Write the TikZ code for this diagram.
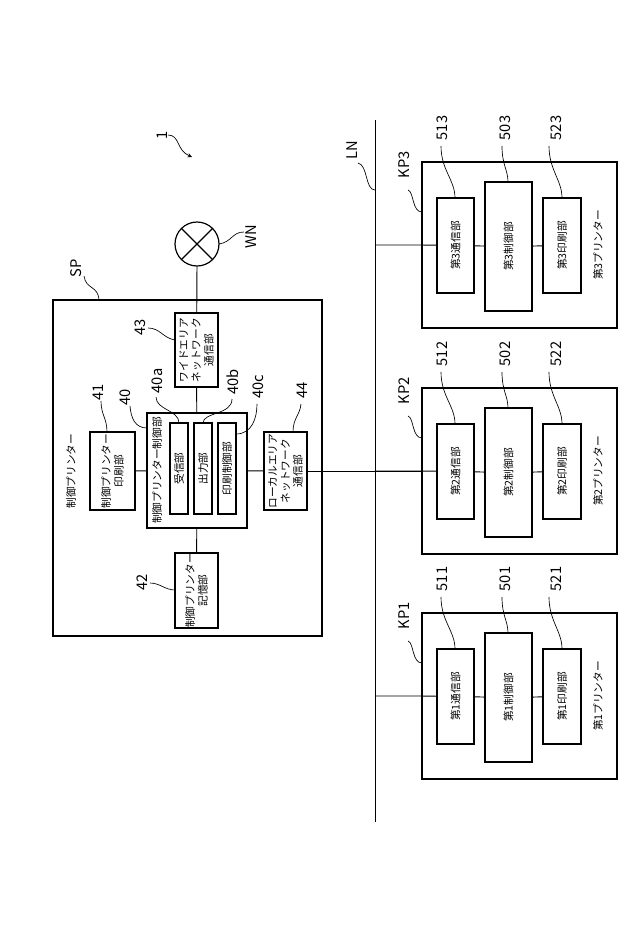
\documentclass[tikz,border=0pt]{standalone}
\usepackage{fontspec}
\setmainfont{Noto Sans CJK JP}
\begin{document}
\begin{tikzpicture}[x=0.75pt,y=-0.75pt,
  box/.style={draw,line width=0.9pt,inner sep=0pt},
  t/.style={rotate=90,font=\fontsize{8}{9.5}\selectfont,align=center},
  num/.style={rotate=90,font=\fontsize{11}{12}\selectfont},
  ld/.style={line width=0.5pt},
  ln/.style={line width=0.7pt}]
\useasboundingbox (0,0) rectangle (640,932);
% SP
\draw[box] (53,300) rectangle (322,636);
\node[num] (SPl) at (76,268) {SP};
\draw[ld] (99,300) .. controls (98,285) and (86,290) .. (84,276);
\node[t] (cpl) at (71,471) {制御プリンター};
% WN
\draw[line width=0.9pt] (197,244) circle (22);
\node[inner sep=0pt,minimum size=0pt] (wn) at (197,266) {};
\draw[line width=0.9pt] (181.4,228.4) -- (212.6,259.6) (181.4,259.6) -- (212.6,228.4);
\node[num] (WNl) at (251,237) {WN};
\draw[ld] (219,244) .. controls (232,242) and (232,232) .. (244,232);
% 1
\node[num] (one) at (162,135) {1};
\draw[ld,->,>=stealth] (168,135) .. controls (180,135) and (176,150) .. (192,157);
% boxes
\node[box,minimum width=43pt*0.75,minimum height=74pt*0.75] (b43) at (196.5,350) {};
\node[t] at (b43) {ワイドエリア\\ネットワーク\\通信部};
\node[box,minimum width=100*0.75pt,minimum height=115*0.75pt] (b40) at (197,470.5) {};
\node[t] at (157,470.5) {制御プリンター制御部};
\node[box,minimum width=18*0.75pt,minimum height=91*0.75pt] (b40a) at (179,468.5) {};
\node[t] at (b40a) {受信部};
\node[box,minimum width=18*0.75pt,minimum height=91*0.75pt] (b40b) at (203,468.5) {};
\node[t] at (b40b) {出力部};
\node[box,minimum width=18*0.75pt,minimum height=91*0.75pt] (b40c) at (227,468.5) {};
\node[t] at (b40c) {印刷制御部};
\node[box,minimum width=45*0.75pt,minimum height=78*0.75pt] (b41) at (112.5,471) {};
\node[t] at (b41) {制御プリンター\\印刷部};
\node[box,minimum width=43*0.75pt,minimum height=75*0.75pt] (b42) at (196.5,590.5) {};
\node[t] at (b42) {制御プリンター\\記憶部};
\node[box,minimum width=43*0.75pt,minimum height=78*0.75pt] (b44) at (285.5,471) {};
\node[t] at (b44) {ローカルエリア\\ネットワーク\\通信部};
% numbers
\node[num] at (140,327) {43};
\draw[ld] (175,340) .. controls (163,338) and (160,328) .. (148,328);
\node[num] at (98,392) {41};
\draw[ld] (107,432) .. controls (107,418) and (101,415) .. (101,401);
\node[num] at (125,397) {40};
\draw[ld] (147,428) .. controls (135,428) and (131,418) .. (130,406);
\node[num] at (157,381) {40a};
\draw[ld] (179,423) .. controls (179,410) and (156,410) .. (156,397);
\node[num] at (233,382) {40b};
\draw[ld] (203,423) .. controls (203,412) and (232,415) .. (232,399);
\node[num] at (258,387) {40c};
\draw[ld] (236,434) .. controls (252,434) and (257,418) .. (257,404);
\node[num] at (302,390) {44};
\draw[ld] (293,432) .. controls (293,418) and (300,415) .. (301,404);
\node[num] at (142,582) {42};
\draw[ld] (175,590) .. controls (165,590) and (160,583) .. (150,583);
% connections
\draw[ln] (wn) -- (b43);
\draw[ln] (b43) -- (b40);
\draw[ln] (b41) -- (b40);
\draw[ln] (b40) -- (b42);
\draw[ln] (b40) -- (b44);
% LN
\coordinate (LNa) at (375,120);
\coordinate (LNb) at (375,822);
\draw[ln] (LNa) -- (LNb);
\node[num] at (352,150) {LN};
\draw[ld] (375,190) .. controls (365,190) and (368,165) .. (358,163);
% printers
\foreach \i/\dy in {1/451,2/226,3/0}{
 \begin{scope}[yshift=-\dy*0.75pt]
  \node[box,minimum width=195*0.75pt,minimum height=166*0.75pt] (kp\i) at (519.5,245) {};
  \node[box,minimum width=37*0.75pt,minimum height=95*0.75pt] (c51\i) at (455.5,245.5) {};
  \node[t] at (c51\i) {第\i 通信部};
  \node[box,minimum width=47*0.75pt,minimum height=129*0.75pt] (c50\i) at (508.5,246.5) {};
  \node[t] at (c50\i) {第\i 制御部};
  \node[box,minimum width=38*0.75pt,minimum height=95*0.75pt] (c52\i) at (562,245.5) {};
  \node[t] at (c52\i) {第\i 印刷部};
  \node[t] at (598,245) {第\i プリンター};
  \coordinate (tap\i) at (375,245);
  \draw[ln] (tap\i) -- (kp\i.west) -- (c51\i);
  \draw[ln] (c51\i) -- (c50\i);
  \draw[ln] (c50\i) -- (c52\i);
  \node[num] at (442,128) {51\i};
  \draw[ld] (455,198) .. controls (455,180) and (441,170) .. (441,146);
  \node[num] at (505,128) {50\i};
  \draw[ld] (508,182) .. controls (508,170) and (502,165) .. (502,146);
  \node[num] at (556,128) {52\i};
  \draw[ld] (562,198) .. controls (562,180) and (549,170) .. (549,146);
  \node[num] at (404,165) {KP\i};
  \draw[ld] (422,212) .. controls (412,212) and (414,192) .. (408,190);
 \end{scope}}
\draw[ln] (b44) -- (kp2.west);
\end{tikzpicture}
\end{document}
